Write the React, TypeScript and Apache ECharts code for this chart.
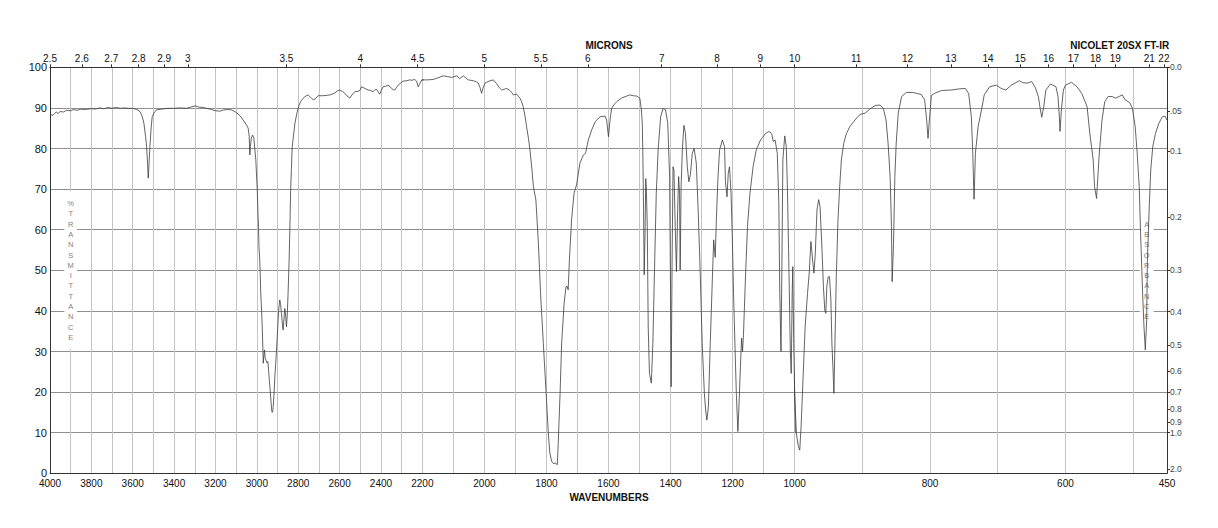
import React, { useEffect, useRef } from "react";
import * as echarts from "echarts";

// ---- Spectrum data (wavenumber cm-1, %transmittance) ----
const WN_HIGH = [
  4000, 3985, 3970, 3960, 3952, 3935, 3920, 3900, 3887, 3870, 3850, 3830, 3800, 3780, 3760, 3740, 3720, 3700, 3680, 3660,
  3640, 3620, 3600, 3580, 3565, 3555, 3546, 3538, 3533, 3528, 3525, 3521, 3517, 3511, 3506, 3495, 3485, 3460, 3430, 3400,
  3370, 3340, 3320, 3298, 3280, 3260, 3243, 3220, 3200, 3179, 3160, 3140, 3122, 3110, 3098, 3080, 3066, 3050, 3042, 3037,
  3034, 3031, 3027, 3021, 3015, 3010, 3005, 2998, 2994, 2992, 2990, 2986, 2983, 2981, 2977, 2974, 2971, 2969, 2966, 2963,
  2960, 2956, 2951, 2947, 2942, 2937, 2932, 2928, 2926, 2923, 2921, 2917, 2913, 2909, 2905, 2901, 2897, 2893, 2889, 2885,
  2881, 2877, 2873, 2869, 2865, 2861, 2857, 2853, 2849, 2844, 2840, 2837, 2833, 2829, 2822, 2816, 2806, 2796, 2785, 2768,
  2752, 2740, 2728, 2716, 2704, 2680, 2660, 2647, 2625, 2610, 2599, 2585, 2575, 2565, 2551, 2540, 2527, 2510, 2502, 2494,
  2478, 2462, 2450, 2438, 2430, 2422, 2414, 2406, 2398, 2390, 2378, 2366, 2357, 2349, 2341, 2333, 2325, 2317, 2305, 2293,
  2275, 2261, 2250, 2237, 2228, 2220, 2214, 2205
];
const T_HIGH = [
  88.3, 88.2, 89.0, 88.6, 89.1, 89.0, 89.4, 89.3, 89.6, 89.4, 89.7, 89.6, 89.8, 89.7, 90.0, 89.8, 90.1, 89.9, 90.1, 89.9,
  90.0, 89.9, 89.9, 89.6, 89.1, 88.0, 86.2, 83.0, 80.5, 76.0, 72.7, 76.5, 80.5, 85.0, 87.8, 89.0, 89.5, 89.7, 89.9, 89.9,
  90.0, 89.9, 90.2, 90.5, 90.2, 90.1, 89.9, 89.6, 89.3, 89.2, 89.5, 89.6, 89.5, 89.2, 88.8, 88.0, 87.0, 85.8, 85.0, 83.0,
  78.4, 80.5, 82.5, 83.3, 82.8, 80.0, 77.2, 69.8, 63.2, 60.8, 56.0, 52.5, 48.0, 44.3, 40.0, 36.1, 31.0, 27.1, 29.0, 30.4,
  28.5, 27.9, 27.2, 27.5, 24.5, 21.3, 18.0, 15.4, 15.0, 15.4, 16.4, 19.5, 23.8, 27.0, 30.4, 34.0, 37.8, 41.0, 42.7, 41.5,
  39.4, 37.0, 35.3, 38.0, 40.6, 39.0, 36.1, 39.0, 44.3, 52.5, 61.0, 69.0, 75.0, 80.5, 83.5, 86.2, 88.8, 90.7, 91.8, 92.8,
  93.2, 92.6, 92.0, 92.3, 93.0, 93.0, 93.1, 93.2, 93.6, 94.2, 94.4, 94.0, 93.6, 93.0, 92.4, 93.2, 94.0, 94.1, 94.3, 95.2,
  94.8, 94.4, 94.3, 94.0, 94.4, 94.6, 94.0, 93.4, 94.3, 95.2, 95.3, 95.6, 95.3, 94.8, 94.5, 94.4, 95.0, 95.6, 96.1, 96.6,
  96.7, 96.9, 96.8, 97.0, 96.6, 95.2, 95.8, 96.7
];

const WN_MID = [
  2200, 2185, 2165, 2150, 2132, 2118, 2105, 2089, 2080, 2068, 2060, 2052, 2036, 2025, 2020, 2014, 2009, 2004, 1998, 1985,
  1971, 1960, 1952, 1944, 1936, 1928, 1918, 1912, 1907, 1896, 1890, 1885, 1880, 1875, 1869, 1864, 1858, 1853, 1847, 1842,
  1834, 1826, 1819, 1810, 1801, 1794, 1789, 1783, 1778, 1772, 1768, 1765, 1762, 1756, 1751, 1743, 1737, 1733, 1730, 1726,
  1719, 1711, 1703, 1692, 1681, 1674, 1665, 1654, 1643, 1627, 1611, 1606, 1600, 1595, 1590, 1580, 1574, 1558, 1542, 1531,
  1520, 1509, 1499, 1494, 1491, 1489, 1487, 1485, 1482, 1480, 1478, 1475, 1472, 1468, 1462, 1457, 1451, 1446, 1440, 1432,
  1424, 1416, 1409, 1403, 1400, 1398, 1395, 1392, 1389, 1385, 1381, 1377, 1374, 1371, 1369, 1366, 1362, 1357, 1352, 1346,
  1341, 1336, 1330, 1324, 1317, 1311, 1304, 1298, 1291, 1287, 1283, 1278, 1272, 1265, 1261, 1256, 1252, 1247, 1242, 1233,
  1226, 1223, 1218, 1214, 1210, 1205, 1201, 1197, 1192, 1188, 1183, 1180, 1174, 1171, 1168, 1165, 1158, 1152, 1144, 1134,
  1124, 1110, 1094, 1083, 1074, 1069, 1063, 1056, 1051, 1048, 1044, 1041, 1038, 1032, 1027, 1023, 1018, 1014, 1011, 1008,
  1006, 1003
];
const T_MID = [
  96.9, 96.9, 97.0, 97.4, 97.9, 97.7, 97.5, 97.9, 97.2, 97.9, 97.4, 96.9, 96.7, 96.4, 96.1, 95.0, 93.6, 95.0, 96.1, 96.6,
  96.9, 95.9, 95.0, 94.4, 94.6, 94.8, 94.3, 93.8, 93.2, 93.4, 92.8, 92.4, 91.5, 90.3, 88.0, 85.4, 82.5, 79.6, 75.0, 70.6,
  67.3, 56.7, 44.3, 32.0, 19.7, 9.9, 5.0, 2.9, 2.4, 2.5, 2.3, 2.1, 7.4, 19.7, 32.0, 41.9, 46.0, 46.0, 45.2, 52.5,
  62.4, 69.0, 71.0, 76.4, 78.4, 78.8, 82.1, 84.6, 86.6, 87.8, 88.0, 87.0, 82.9, 87.0, 89.9, 91.0, 91.5, 92.4, 92.9, 93.2,
  93.0, 92.9, 92.4, 89.5, 86.0, 77.2, 65.0, 48.9, 60.0, 72.6, 70.0, 60.8, 36.1, 24.6, 22.2, 32.0, 52.5, 69.0, 79.6, 87.8,
  89.9, 89.5, 86.2, 73.1, 44.3, 21.3, 52.5, 75.5, 74.7, 60.8, 49.7, 64.9, 73.1, 69.0, 50.1, 70.6, 79.6, 85.7, 83.7, 75.5,
  71.8, 73.6, 78.8, 80.0, 76.4, 64.9, 48.4, 32.0, 19.7, 15.6, 13.1, 16.4, 32.0, 48.4, 57.5, 53.2, 63.2, 73.1, 79.6, 82.1,
  80.5, 71.8, 68.1, 73.9, 75.5, 69.0, 58.3, 44.3, 30.4, 19.7, 10.3, 15.6, 27.9, 33.3, 30.0, 34.1, 49.3, 60.8, 69.0, 75.5,
  79.6, 82.1, 83.7, 84.2, 83.7, 81.7, 82.1, 78.8, 66.5, 44.3, 30.0, 52.5, 77.2, 83.1, 80.5, 69.0, 48.4, 30.0, 24.6, 44.3,
  50.9, 32.0
];

const WN_LOW = [
  1000, 997.5, 994.5, 992.5, 990.5, 987.5, 984.5, 981, 978.5, 976, 973.5, 971.5, 969.5, 967, 964.5, 962.5, 960, 957.5, 955.5, 954,
  952.5, 950.5, 948.5, 946.5, 945, 943.5, 942, 940.5, 938.5, 936, 933.5, 931, 927.5, 923.5, 918.5, 911, 903.5, 896, 889, 881,
  874, 869, 865, 862, 859, 857, 856, 854, 852, 850, 847, 842, 835, 825, 813, 808, 805, 803, 801, 798,
  793, 783, 769, 756, 748, 743, 739, 737, 735, 733, 729, 724, 720, 712, 702, 695, 688, 680, 668, 663,
  656, 650, 645, 640, 637, 635, 632, 629, 622, 614, 611, 609, 608, 606, 603, 600, 591, 583, 576, 568,
  564, 559, 557, 554, 553, 550, 546, 542, 537, 531, 526, 521, 516, 512, 505, 501, 497, 494, 491, 489,
  486, 484, 482, 480, 479, 476, 474, 471, 467, 462, 457, 453, 450
];
const T_LOW = [
  19.7, 9.9, 6.6, 5.7, 11.5, 23.8, 36.1, 44.3, 49.3, 57.1, 52.5, 49.3, 54.2, 64.9, 67.4, 65.7, 56.7, 46.0, 40.2, 39.4,
  46.0, 48.4, 48.4, 42.7, 32.0, 26.3, 19.7, 32.0, 48.4, 62.4, 70.6, 77.2, 81.3, 83.7, 85.4, 87.0, 88.4, 88.7, 89.7, 90.6,
  90.7, 89.9, 87.0, 81.3, 73.1, 60.8, 47.2, 56.3, 73.1, 81.3, 88.7, 92.8, 93.8, 93.8, 93.3, 92.0, 87.0, 82.5, 87.0, 93.1,
  93.6, 94.3, 94.4, 94.7, 94.8, 93.6, 87.8, 79.6, 67.5, 78.8, 85.4, 89.5, 93.2, 95.2, 95.6, 94.8, 94.4, 95.6, 96.7, 96.2,
  96.1, 96.5, 95.2, 92.8, 89.5, 87.7, 90.3, 94.4, 95.9, 95.2, 92.8, 87.8, 84.2, 89.5, 94.4, 95.6, 96.3, 95.2, 93.6, 90.3,
  83.7, 77.2, 70.6, 67.7, 70.6, 78.8, 87.0, 91.5, 92.8, 92.8, 92.4, 92.8, 93.2, 92.0, 91.3, 89.9, 85.4, 78.8, 70.6, 59.1,
  44.3, 36.1, 30.4, 37.8, 52.5, 66.5, 74.7, 80.5, 83.7, 86.2, 87.8, 88.0, 87.0
];

// ---- Axis definitions ----
const SEGMENT_RANGES = [
  [2200, 4000],
  [1000, 2200],
  [450, 1000]
];
const WAVENUMBER_LABELS = [
  [4000, 3800, 3600, 3400, 3200, 3000, 2800, 2600, 2400],
  [2200, 2000, 1800, 1600, 1400, 1200, 1000],
  [800, 600, 450]
];
const WAVENUMBER_GRIDLINES = [
  [4000, 3900, 3800, 3700, 3600, 3500, 3400, 3300, 3200, 3100, 3000, 2900, 2800, 2700, 2600, 2500, 2400, 2300, 2200],
  [2200, 2100, 2000, 1900, 1800, 1700, 1600, 1500, 1400, 1300, 1200, 1100, 1000],
  [1000, 900, 800, 700, 600, 500]
];
const MICRON_LABELS = [
  [2.5, 2.6, 2.7, 2.8, 2.9, 3, 3.5, 4, 4.5],
  [5, 5.5, 6, 7, 8, 9, 10],
  [11, 12, 13, 14, 15, 16, 17, 18, 19, 21, 22]
];
const ABSORBANCE_TICKS = [0, 0.05, 0.1, 0.2, 0.3, 0.4, 0.5, 0.6, 0.7, 0.8, 0.9, 1.0, 2.0];
const ABSORBANCE_LABELS = ["0.0", ".05", "0.1", "0.2", "0.3", "0.4", "0.5", "0.6", "0.7", "0.8", "0.9", "1.0", "2.0"];

const FONT = "'Liberation Sans', Arial, Helvetica, sans-serif";
const GRID_LEFT = 50;
const GRID_TOP = 67.3;
const GRID_W = 372.33;
const GRID_H = 406;

function nearestIndex(list: number[], v: number): number {
  let best = 0;
  for (let i = 1; i < list.length; i++) {
    if (Math.abs(list[i] - v) < Math.abs(list[best] - v)) best = i;
  }
  return best;
}

function segmentData(lo: number, hi: number): number[][] {
  const wn = [...WN_HIGH, ...WN_MID, ...WN_LOW];
  const t = [...T_HIGH, ...T_MID, ...T_LOW];
  const keep: number[][] = [];
  for (let i = 0; i < wn.length; i++) {
    const inside = wn[i] >= lo && wn[i] <= hi;
    const nextInside = i + 1 < wn.length && wn[i + 1] >= lo && wn[i + 1] <= hi;
    const prevInside = i > 0 && wn[i - 1] >= lo && wn[i - 1] <= hi;
    if (inside || nextInside || prevInside) keep.push([wn[i], t[i]]);
  }
  return keep;
}

export default function App() {
  const ref = useRef<HTMLDivElement>(null);

  useEffect(() => {
    if (!ref.current) return;
    const chart = echarts.init(ref.current, null, { renderer: "svg" });

    const grids = SEGMENT_RANGES.map((_, i) => ({
      left: GRID_LEFT + i * GRID_W,
      top: GRID_TOP,
      width: GRID_W,
      height: GRID_H,
      containLabel: false
    }));

    const bottomAxes = SEGMENT_RANGES.map(([lo, hi], i) => ({
      type: "value",
      gridIndex: i,
      position: "bottom",
      min: lo,
      max: hi,
      inverse: true,
      axisLine: { show: true, onZero: false, lineStyle: { color: "#333", width: 1 } },
      axisTick: { show: false, customValues: WAVENUMBER_GRIDLINES[i] },
      axisLabel: {
        customValues: WAVENUMBER_LABELS[i],
        formatter: (v: number) => String(v),
        color: "#111",
        fontSize: 10,
        fontFamily: FONT,
        margin: 5
      },
      splitLine: { show: true, lineStyle: { color: "#c4c4c4", width: 1 } }
    }));

    const topAxes = SEGMENT_RANGES.map(([lo, hi], i) => ({
      type: "value",
      gridIndex: i,
      position: "top",
      min: lo,
      max: hi,
      inverse: true,
      axisLine: { show: true, onZero: false, lineStyle: { color: "#333", width: 1 } },
      axisTick: {
        show: true,
        length: 3,
        customValues: MICRON_LABELS[i].map((m) => 10000 / m),
        lineStyle: { color: "#333" }
      },
      axisLabel: {
        customValues: MICRON_LABELS[i].map((m) => 10000 / m),
        formatter: (v: number) => String(MICRON_LABELS[i][nearestIndex(MICRON_LABELS[i], 10000 / v)]),
        color: "#111",
        fontSize: 10,
        fontFamily: FONT,
        margin: 4
      },
      splitLine: { show: false }
    }));

    const yAxes: any[] = [
      {
        type: "value",
        gridIndex: 0,
        min: 0,
        max: 100,
        interval: 10,
        position: "left",
        axisLine: { show: true, lineStyle: { color: "#333", width: 1 } },
        axisTick: { show: false },
        axisLabel: { color: "#111", fontSize: 11, fontFamily: FONT, margin: 3 },
        splitLine: { show: true, lineStyle: { color: "#8f8f8f", width: 1 } }
      },
      {
        type: "value",
        gridIndex: 1,
        min: 0,
        max: 100,
        interval: 10,
        axisLine: { show: false },
        axisTick: { show: false },
        axisLabel: { show: false },
        splitLine: { show: true, lineStyle: { color: "#8f8f8f", width: 1 } }
      },
      {
        type: "value",
        gridIndex: 2,
        min: 0,
        max: 100,
        interval: 10,
        position: "left",
        axisLine: { show: false },
        axisTick: { show: false },
        axisLabel: { show: false },
        splitLine: { show: true, lineStyle: { color: "#8f8f8f", width: 1 } }
      },
      {
        type: "value",
        gridIndex: 2,
        min: 0,
        max: 100,
        position: "right",
        axisLine: { show: true, lineStyle: { color: "#333", width: 1 } },
        axisTick: {
          show: true,
          length: 3,
          customValues: ABSORBANCE_TICKS.map((a) => 100 * Math.pow(10, -a)),
          lineStyle: { color: "#333" }
        },
        axisLabel: {
          customValues: ABSORBANCE_TICKS.map((a) => 100 * Math.pow(10, -a)),
          formatter: (v: number) =>
            ABSORBANCE_LABELS[nearestIndex(ABSORBANCE_TICKS, -Math.log10(Math.max(v, 0.0001) / 100))],
          color: "#444",
          fontSize: 8.5,
          fontFamily: FONT,
          margin: 3
        },
        splitLine: { show: false }
      }
    ];

    const series = SEGMENT_RANGES.map(([lo, hi], i) => ({
      type: "line",
      xAxisIndex: i,
      yAxisIndex: i,
      data: segmentData(lo, hi),
      symbol: "none",
      clip: true,
      z: 5,
      lineStyle: { color: "#3c3c3c", width: 0.8 },
      emphasis: { disabled: true }
    }));

    const stacked = (s: string) => s.split("").join("\n");

    chart.setOption({
      animation: false,
      backgroundColor: "#ffffff",
      grid: grids,
      xAxis: [...bottomAxes, ...topAxes],
      yAxis: yAxes,
      series,
      graphic: [
        {
          type: "text",
          x: 609,
          y: 45,
          z: 10,
          style: { text: "MICRONS", fontSize: 10, fontWeight: "bold", fontFamily: FONT, fill: "#111", align: "center", verticalAlign: "middle" }
        },
        {
          type: "text",
          x: 1119.7,
          y: 45,
          z: 10,
          style: { text: "NICOLET 20SX FT-IR", fontSize: 10, fontWeight: "bold", fontFamily: FONT, fill: "#111", align: "center", verticalAlign: "middle" }
        },
        {
          type: "text",
          x: 609,
          y: 497,
          z: 10,
          style: { text: "WAVENUMBERS", fontSize: 10, fontWeight: "bold", fontFamily: FONT, fill: "#111", align: "center", verticalAlign: "middle" }
        },
        {
          type: "text",
          x: 70.7,
          y: 270.5,
          z: 1,
          style: {
            text: stacked("%TRANSMITTANCE"),
            fontSize: 7.5,
            lineHeight: 10.3,
            fontFamily: FONT,
            fill: "#808080",
            stroke: "none",
            align: "center",
            verticalAlign: "middle",
            backgroundColor: "#ffffff",
            padding: [7, 3]
          }
        },
        {
          type: "text",
          x: 1146.7,
          y: 270.5,
          z: 1,
          style: {
            text: stacked("ABSORBANCE"),
            fontSize: 7.5,
            lineHeight: 10.3,
            fontFamily: FONT,
            fill: "#808080",
            stroke: "none",
            align: "center",
            verticalAlign: "middle",
            backgroundColor: "#ffffff",
            padding: [7, 4]
          }
        }
      ]
    });

    return () => chart.dispose();
  }, []);

  return (
    <div
      ref={ref}
      style={{ position: "fixed", left: 0, top: 0, width: 1218, height: 528, background: "#fff" }}
    />
  );
}
